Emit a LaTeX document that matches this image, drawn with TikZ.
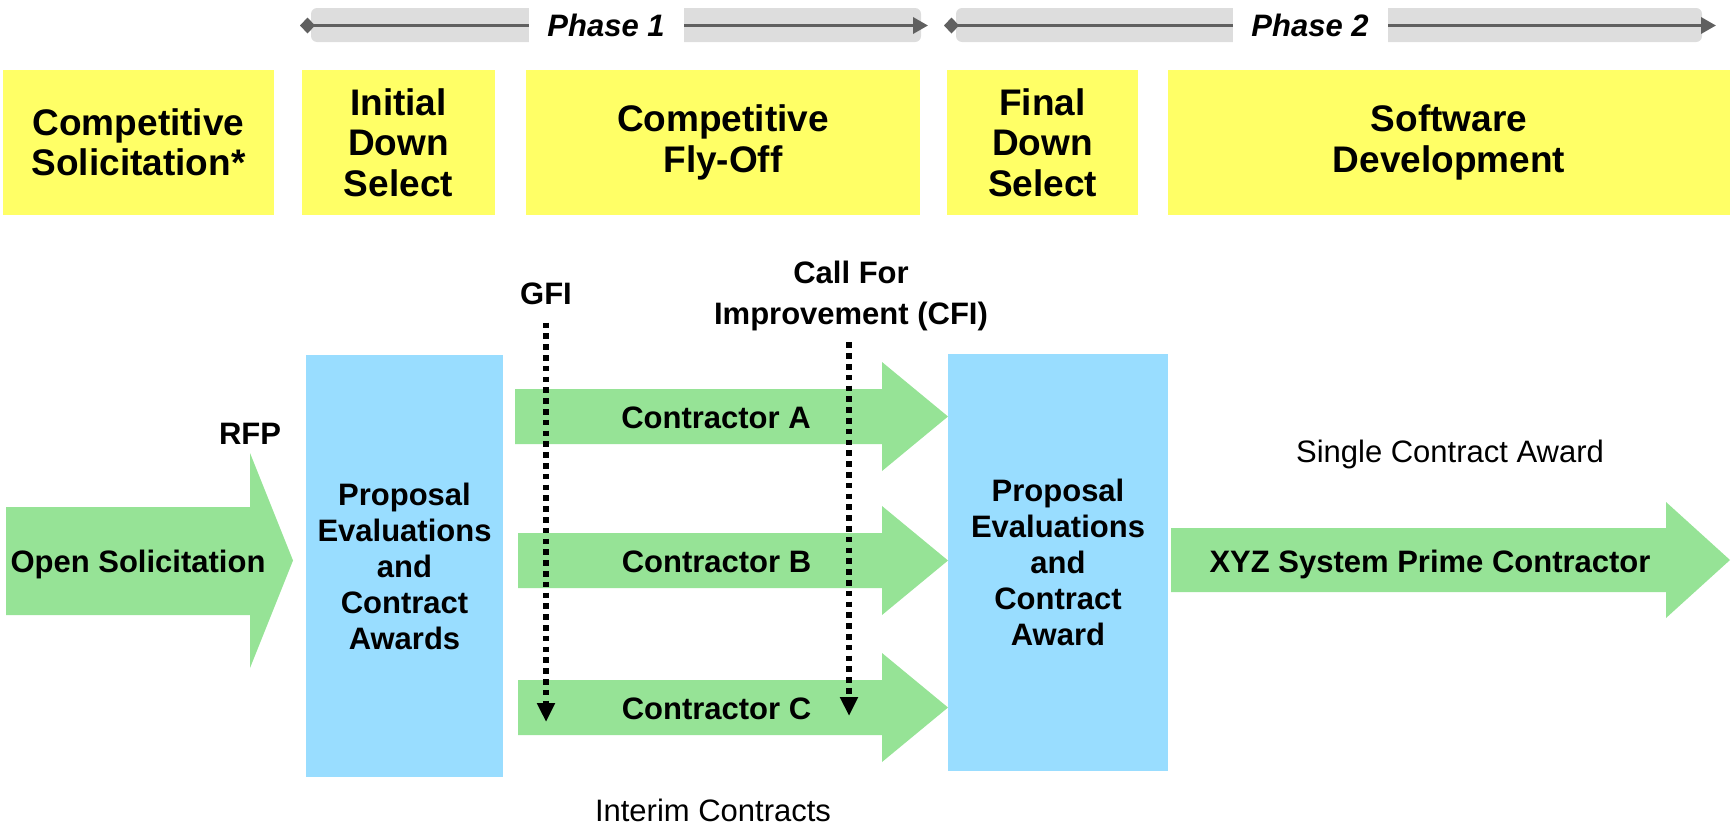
\documentclass[tikz,border=0pt]{standalone}
\usepackage{fontspec}
\setmainfont{Liberation Sans}
\usetikzlibrary{arrows.meta}
\definecolor{boxyellow}{HTML}{FFFF66}
\definecolor{boxblue}{HTML}{99DDFF}
\definecolor{arrowgreen}{HTML}{96E396}
\definecolor{bargray}{HTML}{DDDDDD}
\definecolor{linegray}{HTML}{606060}

\begin{document}
\begin{tikzpicture}[x=0.5pt,y=-0.5pt,
    yellow box/.style={fill=boxyellow,align=center,inner sep=0pt,minimum height=72.5pt,font=\fontsize{18.5}{20.25}\selectfont\bfseries},
    blue box/.style={fill=boxblue,align=center,inner sep=0pt,font=\fontsize{15.5}{18}\selectfont\bfseries},
    bold label/.style={inner sep=0pt,text height=11.2pt,text depth=0pt,font=\fontsize{15.5}{18}\selectfont\bfseries},
    plain label/.style={inner sep=0pt,text height=11.2pt,text depth=0pt,font=\fontsize{15.5}{18}\selectfont},
    phase bar/.style={fill=bargray,rounded corners=3pt,inner sep=0pt,minimum height=17pt},
    phase label/.style={fill=white,inner sep=0pt,minimum width=77.5pt,minimum height=18pt,font=\fontsize{15.5}{18}\selectfont\bfseries\itshape},
    phase line/.style={draw=linegray,line width=1.7pt,{Diamond[length=7.5pt,width=8pt]}-{Triangle[length=7.5pt,width=8pt]}},
    green arrow/.style={fill=arrowgreen},
    dot arrow/.style={line width=2.6pt,dash pattern=on 2.8pt off 2.6pt,-{Triangle[length=9.5pt,width=8.5pt]}}]

  \useasboundingbox (0,0) rectangle (1733,825);

  % phase bars
  \node[phase bar,minimum width=305pt] (bar1) at (616,25) {};
  \node[phase bar,minimum width=373pt] (bar2) at (1329,25) {};
  \coordinate (p1start) at (300,25.5);
  \coordinate (p1end) at (928,25.5);
  \coordinate (p2start) at (944,25.5);
  \coordinate (p2end) at (1716,25.5);
  \draw[phase line] (p1start) -- (p1end);
  \draw[phase line] (p2start) -- (p2end);
  \node[phase label] (phase1) at (606,25) {Phase 1};
  \node[phase label] (phase2) at (1310,25) {Phase 2};

  % stages
  \node[yellow box,minimum width=135.5pt] (compsol) at (138.5,142.5) {Competitive\\Solicitation*};
  \node[yellow box,minimum width=96.5pt] (initsel) at (398.5,142.5) {Initial\\Down\\Select};
  \node[yellow box,minimum width=197pt] (flyoff) at (723,142.5) {Competitive\\Fly-Off};
  \node[yellow box,minimum width=95.5pt] (finalsel) at (1042.5,142.5) {Final\\Down\\Select};
  \node[yellow box,minimum width=281pt] (swdev) at (1449,142.5) {Software\\Development};

  % evaluations
  \node[blue box,minimum width=98.5pt,minimum height=211pt] (eval1) at (404.5,566) {Proposal\\Evaluations\\and\\Contract\\Awards};
  \node[blue box,minimum width=110pt,minimum height=208.5pt] (eval2) at (1058,562.5) {Proposal\\Evaluations\\and\\Contract\\Award};

  % block arrows
  \fill[green arrow] (6,507) -- (250,507) -- (250,453) -- (293,560.5) -- (250,668) -- (250,615) -- (6,615) -- cycle;
  \fill[green arrow] (515,389) -- (882,389) -- (882,362) -- (948,416.5) -- (882,471) -- (882,444) -- (515,444) -- cycle;
  \fill[green arrow] (518,533) -- (882,533) -- (882,506) -- (948,560.5) -- (882,615) -- (882,588) -- (518,588) -- cycle;
  \fill[green arrow] (518,680) -- (882,680) -- (882,653) -- (948,707.5) -- (882,762) -- (882,735) -- (518,735) -- cycle;
  \fill[green arrow] (1171,528) -- (1666,528) -- (1666,502) -- (1730,560) -- (1666,618) -- (1666,592) -- (1171,592) -- cycle;

  \node[bold label] (opensol) at (138,561) {Open Solicitation};
  \node[bold label] (rfp) at (250,433) {RFP};
  \node[bold label] (ctrA) at (716,417) {Contractor A};
  \node[bold label] (ctrB) at (716.5,561) {Contractor B};
  \node[bold label] (ctrC) at (716.5,708) {Contractor C};
  \node[bold label] (xyz) at (1430,561) {XYZ System Prime Contractor};
  \node[plain label] (single) at (1450,451) {Single Contract Award};
  \node[plain label] (interim) at (713,810) {Interim Contracts};

  % government inputs
  \node[bold label] (gfi) at (546,293) {GFI};
  \node[inner sep=0pt,align=center,font=\fontsize{15.5}{20.5}\selectfont\bfseries] (cfi) at (851,295.5) {Call For\\Improvement (CFI)};
  \coordinate (gfiend) at (546,722);
  \coordinate (cfiend) at (849,716);
  \draw[dot arrow,shorten <=9pt] (gfi.south -| gfiend) -- (gfiend);
  \draw[dot arrow,shorten <=5.75pt] (cfi.south -| cfiend) -- (cfiend);
\end{tikzpicture}
\end{document}
